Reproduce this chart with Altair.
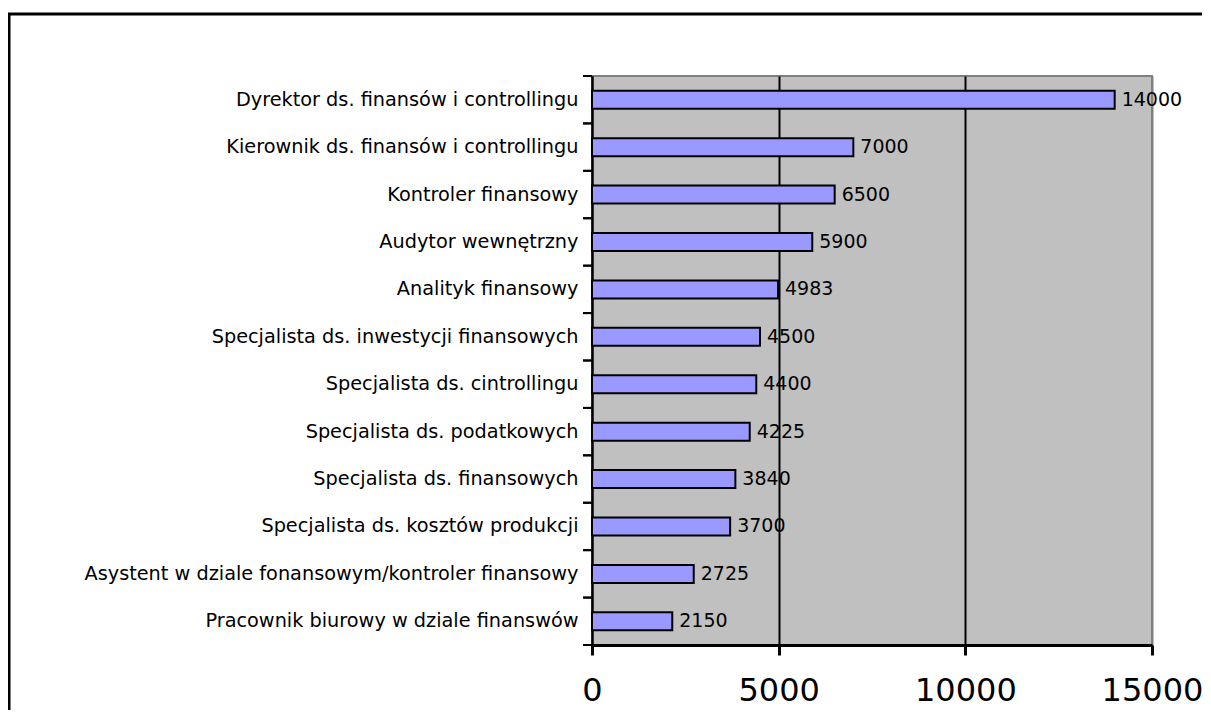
import altair as alt
import pandas as pd

categories = [
    "Dyrektor ds. finansów i controllingu",
    "Kierownik ds. finansów i controllingu",
    "Kontroler finansowy",
    "Audytor wewnętrzny",
    "Analityk finansowy",
    "Specjalista ds. inwestycji finansowych",
    "Specjalista ds. cintrollingu",
    "Specjalista ds. podatkowych",
    "Specjalista ds. finansowych",
    "Specjalista ds. kosztów produkcji ",
    "Asystent w dziale fonansowym/kontroler finansowy",
    "Pracownik biurowy w dziale finanswów",
]
values = [14000, 7000, 6500, 5900, 4983, 4500, 4400, 4225, 3840, 3700, 2725, 2150]
x_ticks = [0, 5000, 10000, 15000]

df = pd.DataFrame({"cat": categories, "val": values})

FONT = "DejaVu Sans"

yscale = alt.Scale(domain=categories, paddingInner=0, paddingOuter=0)
xscale = alt.Scale(domain=[0, 15000], nice=False)

base = alt.Chart(df)

bars = base.mark_bar(size=18, color="#9999FF", stroke="black", strokeWidth=2).encode(
    y=alt.Y("cat:N", scale=yscale, sort=categories,
            axis=alt.Axis(title=None, ticks=False, domainColor="black", domainWidth=2,
                          labelFontSize=19.3, labelColor="black", labelPadding=14,
                          labelLimit=0, labelFont=FONT)),
    x=alt.X("val:Q", scale=xscale,
            axis=alt.Axis(title=None, values=x_ticks, format="d", domainColor="black", domainWidth=3,
                          tickColor="black", tickWidth=3, tickSize=10,
                          labelFontSize=32, labelColor="black", labelPadding=20,
                          labelFont=FONT, grid=True,
                          gridColor=alt.condition("datum.value == 15000", alt.value("#808080"), alt.value("black")),
                          gridWidth=2, gridOpacity=1, labelFlush=False)),
)

labels = base.mark_text(align="left", baseline="middle", dx=7, fontSize=19, font=FONT, color="black").encode(
    y=alt.Y("cat:N", scale=yscale, sort=categories),
    x=alt.X("val:Q", scale=xscale),
    text=alt.Text("val:Q", format="d"),
)

ticks_top = base.mark_rule(color="black", strokeWidth=2).encode(
    y=alt.Y("cat:N", scale=yscale, sort=categories, bandPosition=0),
    x=alt.value(-9), x2=alt.value(0),
)
ticks_bot = base.mark_rule(color="black", strokeWidth=2).encode(
    y=alt.Y("cat:N", scale=yscale, sort=categories, bandPosition=1),
    x=alt.value(-9), x2=alt.value(0),
)

frame = alt.Chart(pd.DataFrame({"a": [0]})).mark_rect(fill=None, stroke="black", strokeWidth=3).encode(
    x=alt.value(-583), y=alt.value(-62), x2=alt.value(640), y2=alt.value(700),
)

chart = alt.layer(frame, bars, labels, ticks_top, ticks_bot).properties(
    width=560, height=569,
    autosize=alt.AutoSizeParams(type="none"),
    padding={"left": 584, "top": 68, "right": 50, "bottom": 65},
    background="white",
).configure_view(
    fill="#C0C0C0", stroke="#808080", strokeWidth=2,
)

chart.save("out.html", embed_options={"renderer": "svg", "actions": False})
